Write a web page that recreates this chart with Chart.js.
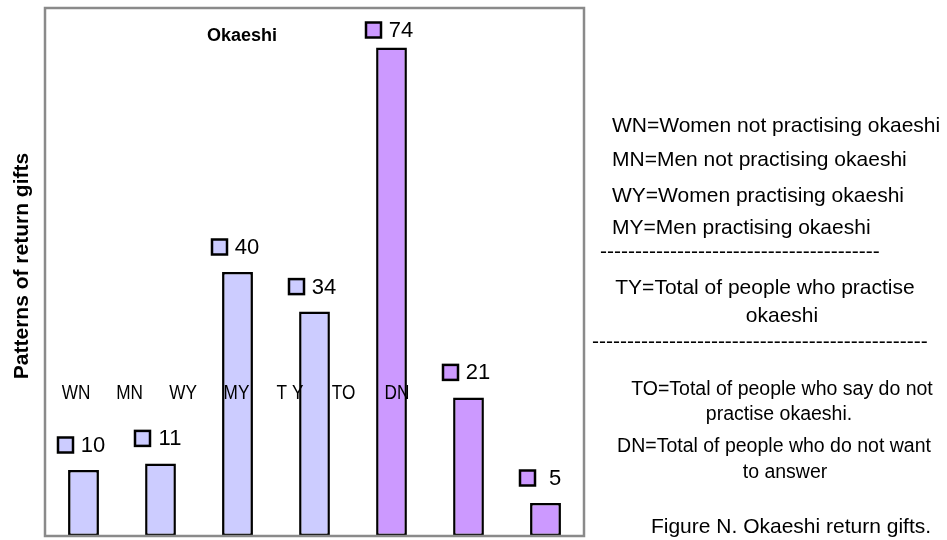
<!DOCTYPE html>
<html>
<head>
<meta charset="utf-8">
<script src="https://cdn.jsdelivr.net/npm/chart.js@4/dist/chart.umd.min.js"></script>
<style>
  html, body { margin: 0; padding: 0; background: #ffffff; }
  #wrap { width: 947px; height: 540px; position: relative; }
</style>
</head>
<body>
<div id="wrap"><canvas id="c" width="947" height="540"></canvas></div>
<script>
// Okaeshi return gifts: counts per group of respondents
const categories = ['WN', 'MN', 'WY', 'MY', 'TY', 'TO', 'DN'];
const rowLabels  = ['WN', 'MN', 'WY', 'MY', 'T Y', 'TO', 'DN'];
const counts     = [10, 11, 40, 34, 74, 21, 5];
const groupKind  = ['part', 'part', 'part', 'part', 'total', 'total', 'total'];

const chartTitle = 'Okaeshi';
const yTitle = 'Patterns of return gifts';
const keyLeft = [
  'WN=Women not practising okaeshi',
  'MN=Men not practising okaeshi',
  'WY=Women practising okaeshi',
  'MY=Men practising okaeshi'
];
const keyPractise = ['TY=Total of people who practise', 'okaeshi'];
const keyOthers = [
  'TO=Total of people who say do not',
  'practise okaeshi.',
  'DN=Total of people who do not want',
  'to answer'
];
const caption = 'Figure N. Okaeshi return gifts.';

const FONT = '"Liberation Sans", Arial, Helvetica, sans-serif';
const fillFor = k => (k === 'part' ? '#ccccff' : '#cc99ff');
const barFills = groupKind.map(fillFor);

const decor = {
  id: 'decor',
  afterDatasetsDraw(chart) {
    const ctx = chart.ctx;
    const a = chart.chartArea;
    const meta = chart.getDatasetMeta(0);

    // plot frame
    ctx.save();
    ctx.strokeStyle = '#8a8a8a';
    ctx.lineWidth = 2.5;
    ctx.strokeRect(a.left, a.top, a.right - a.left, a.bottom - a.top);
    ctx.restore();

    ctx.save();
    ctx.fillStyle = '#000';
    ctx.textBaseline = 'middle';

    // title inside the plot
    ctx.font = 'bold 18px ' + FONT;
    ctx.textAlign = 'center';
    ctx.fillText(chartTitle, a.left + 197, a.top + 28);

    // row of category codes (slightly condensed lettering)
    ctx.font = '20px ' + FONT;
    rowLabels.forEach((t, i) => {
      ctx.save();
      ctx.translate(a.left + 31 + i * 53.5, 393);
      ctx.scale(0.86, 1);
      ctx.fillText(t, 0, 0);
      ctx.restore();
    });

    // value labels: small key square plus the number
    meta.data.forEach((bar, i) => {
      const y = Math.max(bar.y - 25, a.top + 22);
      const cx = bar.x;
      ctx.fillStyle = barFills[i];
      ctx.fillRect(cx - 25.5, y - 7.5, 15, 15);
      ctx.strokeStyle = '#000';
      ctx.lineWidth = 2.5;
      ctx.strokeRect(cx - 25.5, y - 7.5, 15, 15);
      ctx.fillStyle = '#000';
      ctx.font = '22px ' + FONT;
      ctx.textAlign = 'center';
      ctx.fillText(String(counts[i]), cx + 9.5, y + 1);
    });

    // vertical axis title
    ctx.save();
    ctx.translate(22, 266);
    ctx.rotate(-Math.PI / 2);
    ctx.font = 'bold 21px ' + FONT;
    ctx.textAlign = 'center';
    ctx.fillText(yTitle, 0, 0);
    ctx.restore();

    // explanatory key on the right
    ctx.font = '21px ' + FONT;
    ctx.textAlign = 'left';
    const leftYs = [126, 160, 196, 228];
    keyLeft.forEach((t, i) => ctx.fillText(t, 612, leftYs[i]));

    const dashRow = (x0, x1, y) => {
      const w = ctx.measureText('-').width;
      const n = Math.floor((x1 - x0) / w);
      ctx.textAlign = 'left';
      ctx.fillText('-'.repeat(n), x0, y);
    };
    dashRow(600, 886, 252);
    dashRow(592, 934, 342);

    ctx.textAlign = 'center';
    ctx.fillText(keyPractise[0], 765, 288);
    ctx.fillText(keyPractise[1], 782, 316);

    ctx.font = '19.5px ' + FONT;
    const oX = [782, 779, 774, 785];
    const oY = [390, 415, 447, 473];
    keyOthers.forEach((t, i) => ctx.fillText(t, oX[i], oY[i]));

    ctx.font = '21px ' + FONT;
    ctx.fillText(caption, 791, 527);
    ctx.restore();
  }
};

new Chart(document.getElementById('c'), {
  type: 'bar',
  data: {
    labels: categories,
    datasets: [{
      data: counts,
      backgroundColor: barFills,
      borderColor: '#000000',
      borderWidth: 2.5,
      borderSkipped: false,
      barPercentage: 0.4,
      categoryPercentage: 1.0
    }]
  },
  options: {
    responsive: false,
    animation: false,
    layout: { padding: { left: 45, right: 363, top: 8, bottom: 4 } },
    plugins: {
      legend: { display: false },
      tooltip: { enabled: false },
      title: { display: false }
    },
    scales: {
      x: { display: false },
      y: { display: false, min: 0, max: 80 }
    }
  },
  plugins: [decor]
});
</script>
</body>
</html>
